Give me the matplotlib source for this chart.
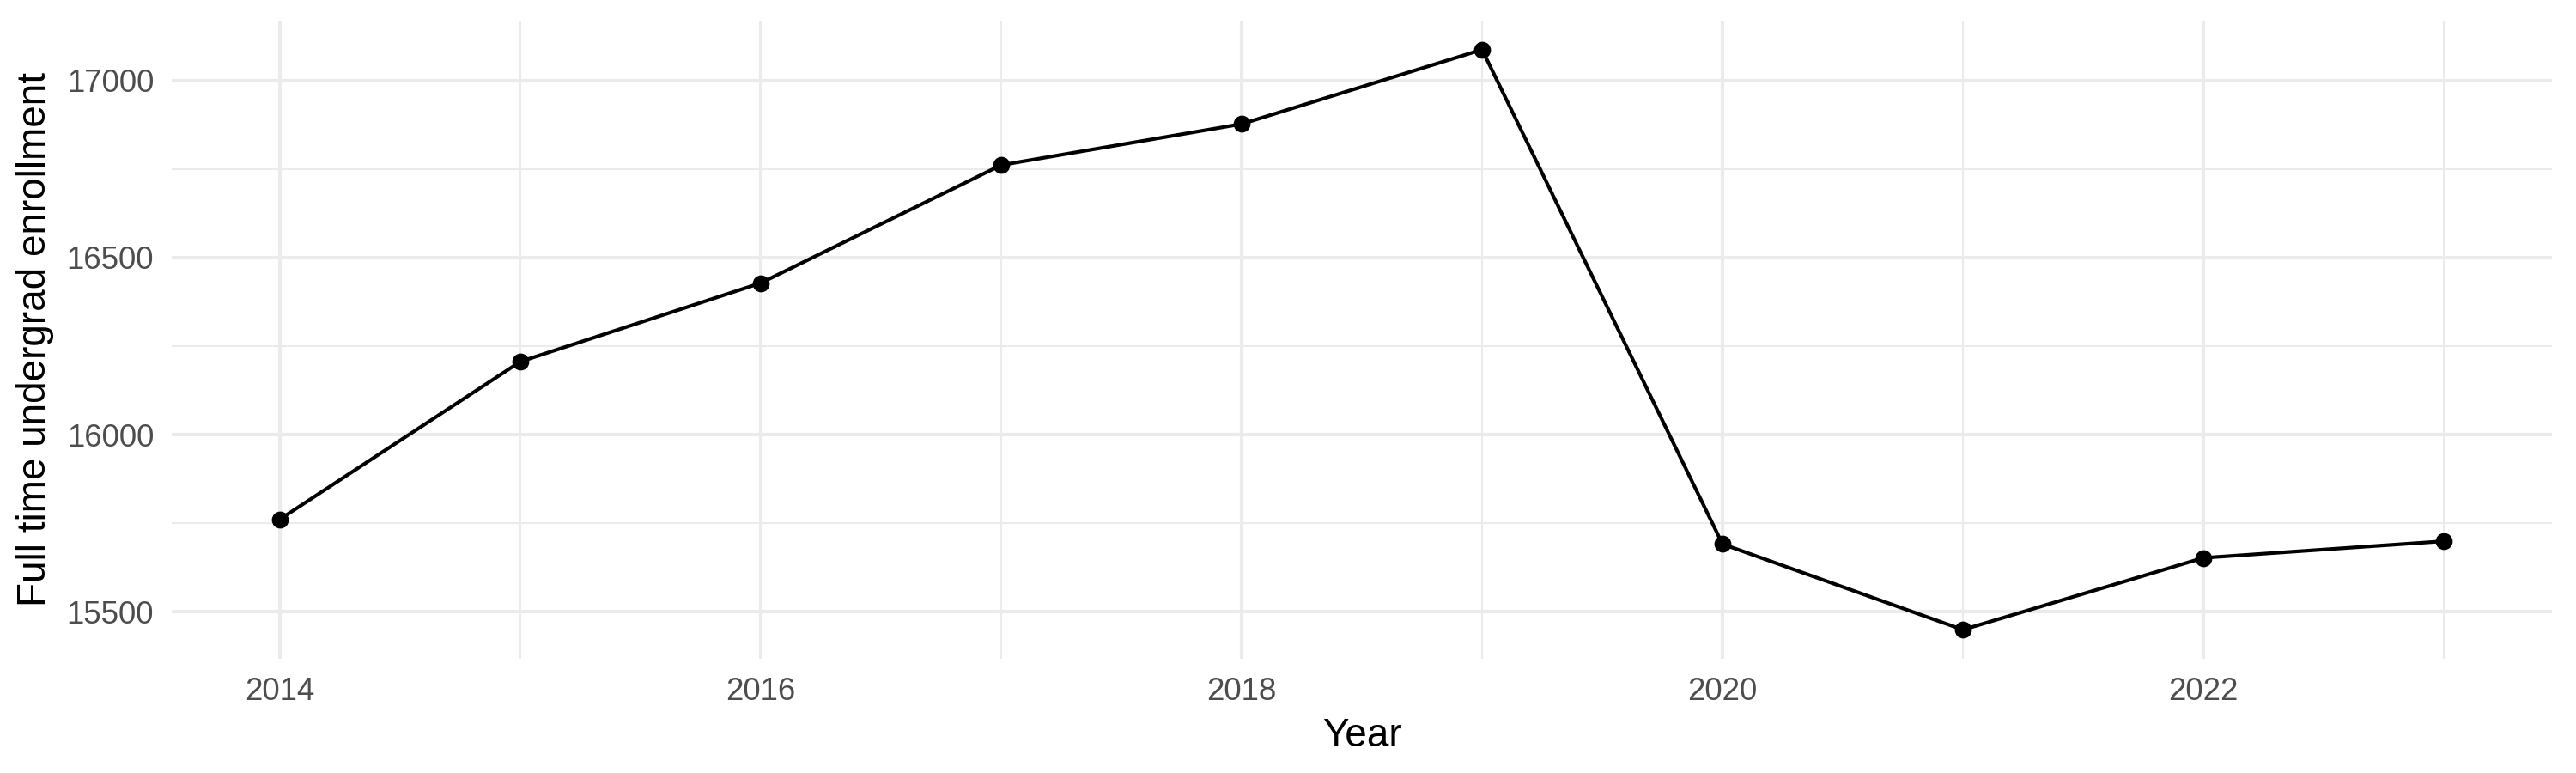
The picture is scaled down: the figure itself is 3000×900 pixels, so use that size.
import matplotlib
matplotlib.use("Agg")
from matplotlib import pyplot as plt
from matplotlib.ticker import MultipleLocator

# enrollment by year
years = [2014, 2015, 2016, 2017, 2018, 2019, 2020, 2021, 2022, 2023]
enrollment = [15761, 16206, 16428, 16761, 16877, 17087, 15691, 15449, 15652, 15699]

plt.rcParams['font.family'] = ['Liberation Sans', 'DejaVu Sans']

fig = plt.figure(figsize=(10, 3), dpi=300)
ax = fig.add_axes([200/3000, 133/900, 2772/3000, 743/900])

ax.plot(years, enrollment, color="black", linewidth=1.0, zorder=3)
ax.scatter(years, enrollment, color="black", s=14, zorder=4)

# ggplot-ish expansion of 5% on each side
xr = max(years) - min(years)
yr = max(enrollment) - min(enrollment)
ax.set_xlim(min(years) - 0.05*xr, max(years) + 0.05*xr)
ax.set_ylim(min(enrollment) - 0.05*yr, max(enrollment) + 0.05*yr)

ax.xaxis.set_major_locator(MultipleLocator(2))
ax.xaxis.set_minor_locator(MultipleLocator(1))
ax.yaxis.set_major_locator(MultipleLocator(500))
ax.yaxis.set_minor_locator(MultipleLocator(250))

ax.grid(which="major", color="#EBEBEB", linewidth=1.0)
ax.grid(which="minor", color="#EBEBEB", linewidth=0.5)
ax.set_axisbelow(True)
for s in ax.spines.values():
    s.set_visible(False)
ax.tick_params(which="both", length=0, labelsize=8.8, labelcolor="#4D4D4D", pad=5)

ax.set_xlabel("Year", fontsize=11, labelpad=3)
ax.set_ylabel("Full time undergrad enrollment", fontsize=11, labelpad=3.5)

fig.savefig("out.png", dpi=300)
